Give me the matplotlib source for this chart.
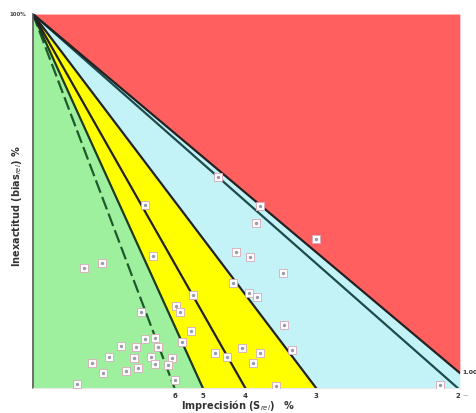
import numpy as np
import matplotlib
matplotlib.use("Agg")
import matplotlib.pyplot as plt

# Sigma lines: bias = 100 - sigma * CV (normalized to TEa = 100 %)
sigma_lines = [6, 5, 4, 3, 2]
sigma_labels = ["6", "5", "4", "3", "2"]
red_sigma = 1.91
red_label = "1.00"

# data points (imprecision %, inaccuracy %)
pts_x = [21.8, 26.7, 33.3, 26.2, 13.2, 23.9, 25.5, 29.4, 23.5, 25.4, 26.4, 29.5,
         14.1, 18.9, 16.9, 17.3, 18.6, 17.5, 21.4, 22.8, 24.6, 26.7, 30.5, 25.9,
         6.0, 8.1, 12.7, 13.2, 14.4, 14.7, 10.4, 12.1, 8.9, 11.9, 13.9, 6.9,
         12.4, 14.4, 8.2, 10.9, 16.4, 15.9, 16.7, 5.2, 28.6, 47.9]
pts_y = [56.4, 48.7, 39.8, 44.1, 48.9, 36.4, 35.0, 30.7, 28.1, 25.4, 24.3, 16.8,
         35.3, 24.9, 21.9, 20.3, 15.2, 12.3, 9.4, 8.3, 10.7, 9.4, 10.2, 6.7,
         32.1, 33.4, 20.3, 13.1, 13.4, 11.0, 11.2, 10.9, 8.3, 8.0, 8.3, 6.7,
         5.3, 6.4, 4.0, 4.5, 8.0, 6.1, 2.1, 1.1, 0.5, 0.8]

xmax = 50.25
fig = plt.figure(figsize=(4.77, 4.13), dpi=100)
ax = fig.add_axes([0.069, 0.0605, 0.895, 0.9055])
ax.set_xlim(0, xmax)
ax.set_ylim(0, 100)

x = np.linspace(0, xmax, 800)
def line(s):
    return np.clip(100 - s * x, 0, 100)

red_c = "#ff5f5f"
blue_c = "#c4f3f7"
yellow_c = "#ffff00"
green_c = "#9ef09e"

ax.fill_between(x, line(red_sigma), 100, color=red_c, lw=0)
ax.fill_between(x, line(3), line(red_sigma), color=blue_c, lw=0)
ax.fill_between(x, line(5), line(3), color=yellow_c, lw=0)
ax.fill_between(x, 0, line(5), color=green_c, lw=0)

# sigma lines
styles = {6: dict(color="#1f5a2a", ls=(0, (6, 2)), lw=1.6),
          5: dict(color="#1e3a22", ls="-", lw=1.6),
          4: dict(color="#222222", ls="-", lw=1.6),
          3: dict(color="#222222", ls="-", lw=1.6),
          2: dict(color="#1d4a4a", ls="-", lw=1.6)}
for s in sigma_lines:
    m = 100 - s * x >= 0
    ax.plot(x[m], (100 - s * x)[m], **styles[s])
ax.plot(x, 100 - red_sigma * x, color="#222222", lw=1.6)

# points
ax.scatter(pts_x, pts_y, marker="s", s=28, facecolor="white",
           edgecolor="#d9a9b9", linewidths=0.6, zorder=5)
ax.scatter(pts_x, pts_y, marker="o", s=2, color="#9a9aaa", zorder=6)

# labels at line ends
for s, lab in zip(sigma_lines, sigma_labels):
    ax.text(100 / s, -1.2, lab, ha="center", va="top", fontsize=5,
            fontweight="bold", color="#333333")
ax.text(xmax + 0.3, -1.5, "—", ha="left", va="top", fontsize=4, color="#555555")
ax.text(xmax + 0.3, 100 - red_sigma * xmax, red_label, ha="left", va="center",
        fontsize=4.5, fontweight="bold", color="#333333")
ax.text(-0.8, 100, "100%", ha="right", va="center", fontsize=4,
        fontweight="bold", color="#444444")

ax.set_xticks([])
ax.set_yticks([])
for sp in ["top", "right"]:
    ax.spines[sp].set_visible(False)
ax.spines["left"].set_color("#555555")
ax.spines["left"].set_linewidth(1.2)
ax.spines["bottom"].set_color("#e8e8e8")
ax.spines["bottom"].set_linewidth(0.8)

fig.text(0.50, 0.018, "Imprecisión (S$_{rel}$)   %", ha="center", va="center",
         fontsize=7, fontweight="bold", color="#333333")
fig.text(0.036, 0.50, "Inexactitud (bias$_{rel}$) %", ha="center", va="center",
         rotation=90, fontsize=7, fontweight="bold", color="#333333")

fig.savefig("out.png", dpi=100)
